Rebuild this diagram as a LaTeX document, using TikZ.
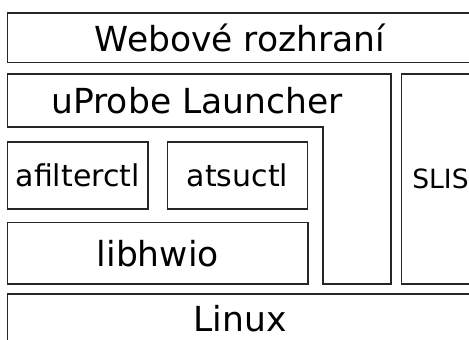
\documentclass[tikz,border=0pt]{standalone}
\usepackage{fontspec}
\setmainfont{DejaVu Sans}
\usetikzlibrary{positioning}

\tikzset{
  layer/.style={draw=black!85, line width=1.4pt, rectangle, inner sep=0pt, outer sep=0pt,
    font=\fontsize{34.5}{40}\selectfont},
  small/.style={font=\fontsize{30}{36}\selectfont},
  label/.style={inner sep=0pt, font=\fontsize{34.5}{40}\selectfont},
}

\begin{document}
\begin{tikzpicture}[x=1pt, y=-1pt]
\useasboundingbox (0,0) rectangle (469,340);
\clip (0,0) rectangle (469,340);

% top layer
\node[layer, minimum width=465pt, minimum height=49.5pt] (web) at (240,37.75) {Webové rozhraní};

% launcher wraps the tools on the left
\draw[draw=black!85, line width=1.4pt] (7.5,74) -- (391,74) -- (391,284) -- (323,284)
  -- (323,127) -- (7.5,127) -- cycle;
\node[label] (launcher) at (197,100.5) {uProbe Launcher};

\node[layer, small, minimum width=140.5pt, minimum height=67pt] (afilter) at (77.75,175.5) {afilterctl};
\node[layer, small, minimum width=140pt, minimum height=67pt, right=19.5pt of afilter] (atsu) {atsuctl};
\node[layer, minimum width=300.5pt, minimum height=61.5pt] (hwio) at (157.75,253.25) {libhwio};

\node[layer, font=\fontsize{26.5}{32}\selectfont, minimum width=78pt, minimum height=210pt] (slis) at (440.5,179) {SLIS};

% bottom layer
\node[layer, minimum width=465pt, minimum height=49.5pt] (linux) at (240,318.75) {Linux};
\end{tikzpicture}
\end{document}
